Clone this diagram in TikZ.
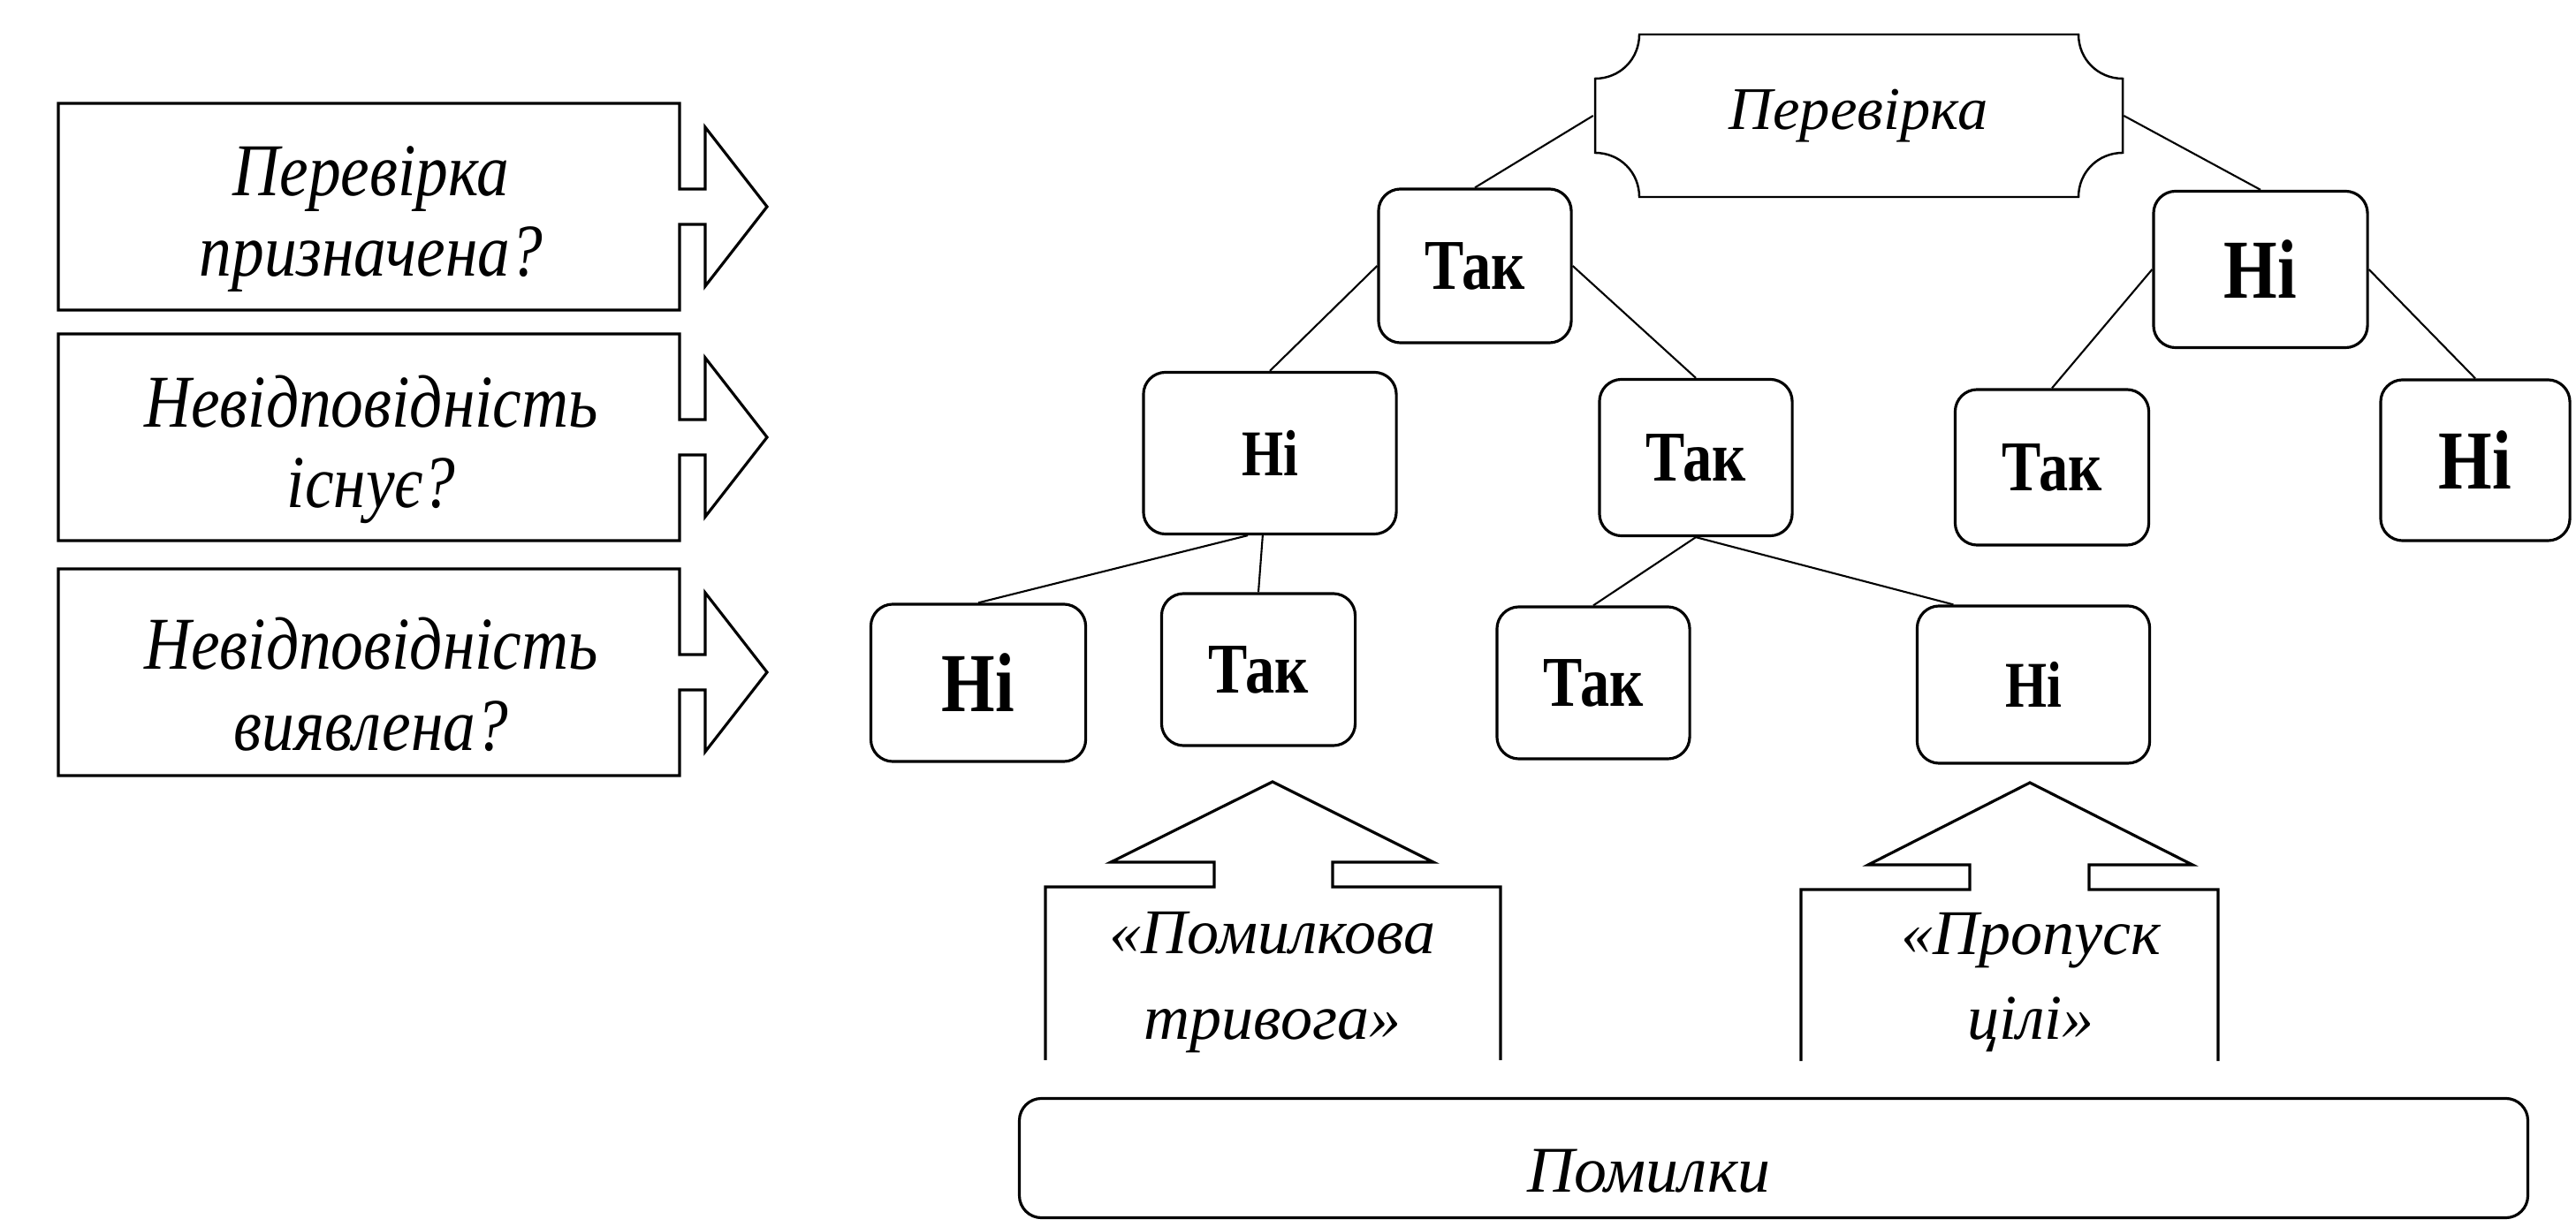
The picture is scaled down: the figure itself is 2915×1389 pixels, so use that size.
\documentclass[tikz,border=0pt]{standalone}
\usepackage{fontspec}
\setmainfont{Liberation Serif}
\newfontfamily\narrowrm{Liberation Serif}[FakeStretch=0.82]
\newfontfamily\questrm{Liberation Serif}[FakeStretch=0.87]
\usepackage{tikz}

\begin{document}
\begin{tikzpicture}[
    x=0.01cm, y=-0.01cm,
    line width=0.9pt,
    every node/.style={inner sep=0pt, align=center},
    ans/.style={draw, rounded corners=0.25cm, font=\narrowrm\bfseries\fontsize{23}{25}\selectfont},
    bigno/.style={ans, font=\narrowrm\bfseries\fontsize{27}{29}\selectfont},
    smallno/.style={ans, font=\narrowrm\bfseries\fontsize{21}{23}\selectfont},
    quest/.style={font=\questrm\itshape\fontsize{24}{26}\selectfont},
    outcome/.style={font=\itshape\fontsize{20.5}{27.5}\selectfont},
    edge/.style={line width=0.6pt}
  ]
    \fill[white] (0,0) rectangle (2915,1389);
    \useasboundingbox (0,0) rectangle (2915,1389);

    \foreach \c/\nm/\txt in {234/q1/{Перевірка\\призначена?},
                             495/q2/{Невідповідність\\існує?},
                             761/q3/{Невідповідність\\виявлена?}} {
      \draw (66,\c-117) -- (769,\c-117) -- (769,\c-20) -- (798,\c-20) -- (798,\c-90)
        -- (868,\c) -- (798,\c+90) -- (798,\c+20) -- (769,\c+20) -- (769,\c+117)
        -- (66,\c+117) -- cycle;
      \node[quest] (\nm) at (420,\c+14) {\txt};
    }

    \draw[line width=0.7pt] (1855,39) -- (2352,39) .. controls (2352,67) and (2374,89) .. (2402,89)
      -- (2402,173) .. controls (2374,173) and (2352,195) .. (2352,223)
      -- (1855,223) .. controls (1855,195) and (1833,173) .. (1805,173)
      -- (1805,89) .. controls (1833,89) and (1855,67) .. (1855,39) -- cycle;
    \node[font=\itshape\fontsize{19.5}{21}\selectfont, minimum width=5.97cm, minimum height=1.84cm]
      (root) at (2103,131) {Перевірка};

    \node[ans, minimum width=2.18cm, minimum height=1.74cm] (yesA) at (1669,301) {Так};
    \node[bigno, minimum width=2.42cm, minimum height=1.77cm] (noA) at (2558,305) {Ні};
    \node[smallno, minimum width=2.86cm, minimum height=1.83cm] (noB) at (1437,513) {Ні};
    \node[ans, minimum width=2.18cm, minimum height=1.77cm] (yesB) at (1919,518) {Так};
    \node[ans, minimum width=2.19cm, minimum height=1.76cm] (yesC) at (2322,529) {Так};
    \node[bigno, minimum width=2.14cm, minimum height=1.82cm] (noC) at (2801,521) {Ні};
    \node[bigno, minimum width=2.43cm, minimum height=1.78cm] (noD) at (1107,773) {Ні};
    \node[ans, minimum width=2.19cm, minimum height=1.72cm] (yesD) at (1424,758) {Так};
    \node[ans, minimum width=2.18cm, minimum height=1.72cm] (yesE) at (1803,773) {Так};
    \node[smallno, minimum width=2.63cm, minimum height=1.78cm] (noE) at (2301,775) {Ні};

    \draw[edge] (root.west) -- (yesA.north);
    \draw[edge] (root.east) -- (noA.north);
    \draw[edge] (yesA.west) -- (noB.north);
    \draw[edge] (yesA.east) -- (yesB.north);
    \draw[edge] (noA.west) -- (yesC.north);
    \draw[edge] (noA.east) -- (noC.north);
    \draw[edge] (noB.255) -- (noD.north);
    \draw[edge] (noB.265) -- (yesD.north);
    \draw[edge] (yesB.south) -- (yesE.north);
    \draw[edge] (yesB.south) -- (noE.135);

    \draw (1183,1200) -- (1183,1004) -- (1374,1004) -- (1374,976) -- (1257,976) -- (1440,885)
      -- (1622,976) -- (1508,976) -- (1508,1004) -- (1698,1004) -- (1698,1200);
    \node[outcome] (falsealarm) at (1440,1112) {«Помилкова\\тривога»};

    \draw (2038,1201) -- (2038,1007) -- (2229,1007) -- (2229,979) -- (2114,979) -- (2297,886)
      -- (2481,979) -- (2364,979) -- (2364,1007) -- (2510,1007) -- (2510,1201);
    \node[outcome] (miss) at (2298,1112) {«Пропуск\\цілі»};

    \node[draw, rounded corners=0.25cm, minimum width=17.06cm, minimum height=1.35cm] (errs) at (2007,1311) {};
    \node[font=\itshape\fontsize{21}{23}\selectfont] (errlbl) at (1866,1326) {Помилки};
  \end{tikzpicture}
\end{document}
